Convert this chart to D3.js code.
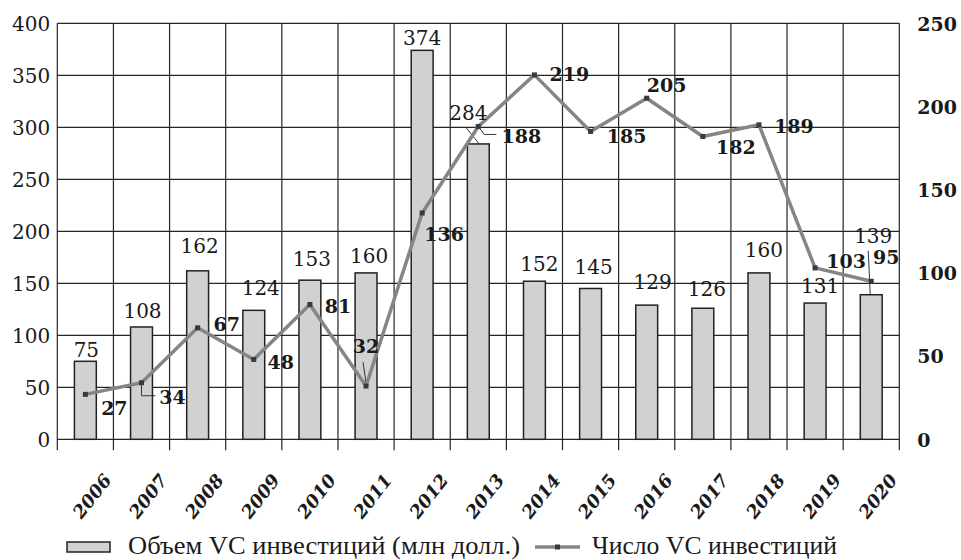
<!DOCTYPE html>
<meta charset="utf-8">
<html>
<head>
<script src="https://d3js.org/d3.v7.min.js"></script>
<style>
    body { margin: 0; background: white; }
    .num { font: 20px "DejaVu Serif"; fill: #1a1a1a; }
    .numb { font: bold 19px "DejaVu Serif"; fill: #1a1a1a; }
    .year { font: italic bold 18px "DejaVu Serif"; fill: #1a1a1a; }
    .leg { font: 25px "Liberation Serif"; fill: #1a1a1a; }
</style>
</head>
<body>
<div id="chart"></div>
<script>

// chart data
var years = ["2006", "2007", "2008", "2009", "2010", "2011", "2012", "2013",
    "2014", "2015", "2016", "2017", "2018", "2019", "2020"];
var volume = [75, 108, 162, 124, 153, 160, 374, 284, 152, 145, 129, 126, 160, 131, 139];
var deals = [27, 34, 67, 48, 81, 32, 136, 188, 219, 185, 205, 182, 189, 103, 95];
var leftTicks = [0, 50, 100, 150, 200, 250, 300, 350, 400];
var rightTicks = [0, 50, 100, 150, 200, 250];
var legendNames = ["Объем VC инвестиций (млн долл.)", "Число VC инвестиций"];

// label placement: [dx from column centre, gap above bar top]
var volNudge = [[1, 4], [1, 9], [2, 18], [7, 15], [2, 14], [3, 10], [0, 5], [-10, 24],
    [5, 10], [3, 15], [6, 16], [4, 12], [5, 16], [5, 10], [2, 52]];
// [dx, dy] of the baseline centre from the point
var dealNudge = [[29, 21], [31, 21], [29, 3], [27, 10], [28, 8], [0, -33], [22, 28], [43, 17],
    [35, 6], [36, 12], [20, -6], [33, 18], [35, 8], [31, 0], [15, -17]];

var width = 961, height = 560;
var plot = {left: 57.3, right: 899.3, top: 23.3, bottom: 439.3};

var svg = d3.select("#chart").append("svg")
    .attr("width", width)
    .attr("height", height);

var x = d3.scaleBand().domain(years).range([plot.left, plot.right]);
var yL = d3.scaleLinear().domain([0, 400]).range([plot.bottom, plot.top]);
var yR = d3.scaleLinear().domain([0, 250]).range([plot.bottom, plot.top]);
var cx = function(d) { return x(d) + x.bandwidth() / 2; };
var barW = x.bandwidth() * 0.39;

// grid
var grid = svg.append("g").attr("stroke", "#262626").attr("stroke-width", 1.2);
grid.selectAll("line.h").data(leftTicks).join("line")
    .attr("x1", plot.left).attr("x2", plot.right)
    .attr("y1", d => yL(d)).attr("y2", d => yL(d));
var bounds = years.map(d => x(d)).concat([plot.right]);
grid.selectAll("line.v").data(bounds).join("line")
    .attr("x1", d => d).attr("x2", d => d)
    .attr("y1", plot.top).attr("y2", plot.bottom + 11);

// bars
svg.append("g").selectAll("rect").data(years).join("rect")
    .attr("x", d => cx(d) - barW / 2)
    .attr("width", barW)
    .attr("y", (d, i) => yL(volume[i]))
    .attr("height", (d, i) => plot.bottom - yL(volume[i]))
    .attr("fill", "#d0d1d3")
    .attr("stroke", "#222")
    .attr("stroke-width", 1.5);

// leader lines
var leaders = svg.append("g").attr("fill", "none").attr("stroke", "#222").attr("stroke-width", 0.9);
function pt(i) { return [cx(years[i]), yR(deals[i])]; }
var p1 = pt(1), p5 = pt(5), p7 = pt(7);
leaders.append("path").attr("d", d3.line()([p1, [p1[0], p1[1] + 13], [p1[0] + 14, p1[1] + 13]]));
leaders.append("path").attr("d", d3.line()([[p5[0] - 3, p5[1] - 24], [p5[0], p5[1] - 3]]));
leaders.append("path").attr("d", d3.line()([p7, [p7[0] + 6, p7[1] + 8], [p7[0] + 18, p7[1] + 8]]));
var b7 = [cx(years[7]), yL(volume[7])];
leaders.append("path").attr("d", d3.line()([[b7[0] - 12, b7[1] - 16], [b7[0] + 1, b7[1]]]));
var b14 = [cx(years[14]), yL(volume[14])];
leaders.append("path").attr("d", d3.line()([[b14[0] - 3, b14[1] - 44], [b14[0] - 1, b14[1]]]));

// line series
var line = d3.line().x((d, i) => cx(years[i])).y(d => yR(d));
svg.append("path").datum(deals)
    .attr("d", line)
    .attr("fill", "none")
    .attr("stroke", "#858585")
    .attr("stroke-width", 3.5)
    .attr("stroke-linejoin", "round");
svg.append("g").selectAll("rect").data(deals).join("rect")
    .attr("x", (d, i) => cx(years[i]) - 2.5)
    .attr("y", d => yR(d) - 2.5)
    .attr("width", 5).attr("height", 5)
    .attr("fill", "#3a3a3a");

// value labels
svg.append("g").selectAll("text").data(volume).join("text")
    .attr("class", "num")
    .attr("text-anchor", "middle")
    .attr("x", (d, i) => cx(years[i]) + volNudge[i][0])
    .attr("y", (d, i) => yL(d) - volNudge[i][1])
    .text(d => d);
svg.append("g").selectAll("text").data(deals).join("text")
    .attr("class", "numb")
    .attr("text-anchor", "middle")
    .attr("x", (d, i) => cx(years[i]) + dealNudge[i][0])
    .attr("y", (d, i) => yR(d) + dealNudge[i][1])
    .text(d => d);

// axes
var axL = svg.append("g")
    .attr("transform", "translate(" + (plot.left - 7) + ",0)")
    .call(d3.axisLeft(yL).tickValues(leftTicks).tickSize(0).tickPadding(0));
axL.select(".domain").remove();
axL.selectAll("text").attr("class", "num").attr("dy", "0.36em");

var axR = svg.append("g")
    .attr("transform", "translate(" + (plot.right + 18) + ",0)")
    .call(d3.axisRight(yR).tickValues(rightTicks).tickSize(0).tickPadding(0));
axR.select(".domain").remove();
axR.selectAll("text").attr("class", "numb").attr("dy", "0.36em");

svg.append("g").selectAll("text").data(years).join("text")
    .attr("class", "year")
    .attr("text-anchor", "end")
    .attr("transform", d => "translate(" + (cx(d) + 27) + "," + (plot.bottom + 41) + ") rotate(-52)")
    .text(d => d);

// legend
var leg = svg.append("g");
leg.append("rect").attr("x", 67).attr("y", 542).attr("width", 43).attr("height", 10)
    .attr("fill", "#d0d1d3").attr("stroke", "#222").attr("stroke-width", 1.5);
leg.append("text").attr("class", "leg").attr("x", 128).attr("y", 554)
    .attr("textLength", 392).attr("lengthAdjust", "spacingAndGlyphs").text(legendNames[0]);
leg.append("line").attr("x1", 535).attr("x2", 580).attr("y1", 547).attr("y2", 547)
    .attr("stroke", "#858585").attr("stroke-width", 3.5);
leg.append("rect").attr("x", 555).attr("y", 544.5).attr("width", 5).attr("height", 5).attr("fill", "#3a3a3a");
leg.append("text").attr("class", "leg").attr("x", 592).attr("y", 554)
    .attr("textLength", 245).attr("lengthAdjust", "spacingAndGlyphs").text(legendNames[1]);

</script>
</body>
</html>
